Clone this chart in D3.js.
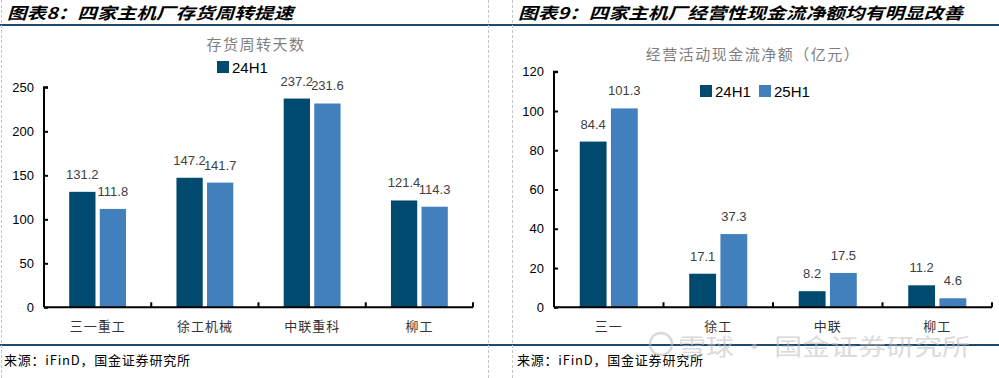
<!DOCTYPE html>
<html>
<head>
<meta charset="utf-8">
<script src="https://cdn.jsdelivr.net/npm/d3@7"></script>
<style>
  body { margin: 0; background: #fff; }
  svg { display: block; }
</style>
</head>
<body>
<svg id="chart" width="999" height="378"></svg>
<script>
// ---- data ----
const series = ['24H1', '25H1'];

const invCategories = ['三一重工', '徐工机械', '中联重科', '柳工'];
const inv24H1 = [131.2, 147.2, 237.2, 121.4];
const inv25H1 = [111.8, 141.7, 231.6, 114.3];
const invTicks = [0, 50, 100, 150, 200, 250];

const cashCategories = ['三一', '徐工', '中联', '柳工'];
const cash24H1 = [84.4, 17.1, 8.2, 11.2];
const cash25H1 = [101.3, 37.3, 17.5, 4.6];
const cashTicks = [0, 20, 40, 60, 80, 100, 120];

const colors = { '24H1': '#00496f', '25H1': '#417fbd' };
const navy = '#1d4a6b';
const cjk = '"Noto Sans CJK SC", sans-serif';
const latin = '"Liberation Sans", Arial, sans-serif';

const svg = d3.select('#chart');

// frame lines
svg.append('line').attr('x1', 0).attr('x2', 999).attr('y1', 25).attr('y2', 25)
    .attr('stroke', navy).attr('stroke-width', 2);
svg.append('line').attr('x1', 0).attr('x2', 999).attr('y1', 345).attr('y2', 345)
    .attr('stroke', navy).attr('stroke-width', 2);
[1, 488, 512].forEach(x => {
    svg.append('line').attr('x1', x + 0.5).attr('x2', x + 0.5).attr('y1', 0).attr('y2', 378)
        .attr('stroke', '#c4c4c4').attr('stroke-dasharray', '3,2');
});

// headers and footers
function header(x, text, len) {
    svg.append('text').attr('x', x).attr('y', 11.5)
        .attr('dominant-baseline', 'central')
        .attr('font-family', cjk).attr('font-weight', 'bold').attr('font-style', 'italic')
        .attr('font-size', 16).attr('fill', '#000')
        .attr('textLength', len).attr('lengthAdjust', 'spacingAndGlyphs')
        .text(text);
}
header(7, '图表8：四家主机厂存货周转提速', 286);
header(518, '图表9：四家主机厂经营性现金流净额均有明显改善', 445);

function footer(x) {
    svg.append('text').attr('x', x).attr('y', 359)
        .attr('dominant-baseline', 'central')
        .attr('font-family', cjk).attr('font-size', 13).attr('fill', '#000')
        .attr('textLength', 186).attr('lengthAdjust', 'spacing')
        .text('来源：iFinD，国金证券研究所');
}
footer(4);
footer(517);

function panel(cfg) {
    const g = svg.append('g');

    const x = d3.scaleBand().domain(cfg.categories).range(cfg.xRange);
    const bw = x.bandwidth();
    const xInner = d3.scaleBand().domain(series)
        .range([bw * 0.235, bw * 0.765]).paddingInner(0.14);
    const y = d3.scaleLinear().domain(cfg.yDomain).range(cfg.yRange);

    // title
    g.append('text').attr('x', cfg.titleX).attr('y', cfg.titleY)
        .attr('text-anchor', 'middle').attr('dominant-baseline', 'central')
        .attr('font-family', cjk).attr('font-size', 15).attr('fill', '#7f7f7f')
        .attr('letter-spacing', 1.5)
        .text(cfg.title);

    // bars
    const rows = cfg.categories.map((c, i) => ({
        cat: c,
        vals: series.map(s => ({ s, v: cfg.values[s][i] }))
    }));
    const grp = g.selectAll('.grp').data(rows).join('g')
        .attr('class', 'grp')
        .attr('transform', d => `translate(${x(d.cat)},0)`);
    grp.selectAll('rect').data(d => d.vals).join('rect')
        .attr('x', d => xInner(d.s))
        .attr('y', d => y(d.v))
        .attr('width', xInner.bandwidth())
        .attr('height', d => y(0) - y(d.v))
        .attr('fill', d => colors[d.s]);
    grp.selectAll('text').data(d => d.vals).join('text')
        .attr('x', d => xInner(d.s) + xInner.bandwidth() / 2)
        .attr('y', d => y(d.v) - 13)
        .attr('text-anchor', 'middle')
        .attr('font-family', latin).attr('font-size', 13).attr('fill', '#404040')
        .text(d => d.v.toFixed(1));

    // axes
    const yAxis = d3.axisRight(y).tickValues(cfg.ticks).tickSize(4).tickFormat(d3.format('d'));
    const ya = g.append('g').attr('transform', `translate(${cfg.xRange[0]},0)`).call(yAxis);
    ya.select('.domain').attr('stroke', '#000').attr('stroke-width', 2)
        .attr('d', `M4,${cfg.yRange[1]}H0V${cfg.yRange[0]}`);
    ya.selectAll('.tick line').attr('stroke', '#000').attr('stroke-width', 2);
    ya.selectAll('.tick text')
        .attr('x', -10).attr('text-anchor', 'end')
        .attr('font-family', latin).attr('font-size', 13).attr('fill', '#000');

    const xAxis = d3.axisBottom(x).tickSize(0);
    const xa = g.append('g').attr('transform', `translate(0,${y(0)})`).call(xAxis);
    xa.select('.domain').attr('stroke', '#000').attr('stroke-width', 2)
        .attr('d', `M${cfg.xRange[0]},0H${cfg.xRange[1]}`);
    xa.selectAll('.tick text')
        .attr('y', 18).attr('dy', 0).attr('dominant-baseline', 'central')
        .attr('font-family', cjk).attr('font-size', 13).attr('fill', '#333')
        .attr('letter-spacing', 1);
    // category separators (ticks pointing up)
    g.selectAll('.sep').data(cfg.categories).join('line')
        .attr('class', 'sep')
        .attr('x1', d => x(d) + bw).attr('x2', d => x(d) + bw)
        .attr('y1', y(0)).attr('y2', y(0) - 5)
        .attr('stroke', '#000').attr('stroke-width', 2);

    // legend
    const lg = g.append('g').attr('transform', `translate(${cfg.legendX},${cfg.legendY})`);
    const items = lg.selectAll('g').data(cfg.legendSeries).join('g')
        .attr('transform', (d, i) => `translate(${i * 59},0)`);
    items.append('rect').attr('x', 0).attr('y', -6).attr('width', 12).attr('height', 12)
        .attr('fill', d => colors[d]);
    items.append('text').attr('x', 15).attr('y', 0).attr('dominant-baseline', 'central')
        .attr('font-family', latin).attr('font-size', 15).attr('fill', '#000')
        .text(d => d);
}

panel({
    categories: invCategories,
    values: { '24H1': inv24H1, '25H1': inv25H1 },
    ticks: invTicks,
    yDomain: [0, 250],
    xRange: [44, 473],
    yRange: [307.3, 87.3],
    title: '存货周转天数',
    titleX: 256, titleY: 43,
    legendX: 217, legendY: 67,
    legendSeries: ['24H1']
});

panel({
    categories: cashCategories,
    values: { '24H1': cash24H1, '25H1': cash25H1 },
    ticks: cashTicks,
    yDomain: [0, 120],
    xRange: [554, 992],
    yRange: [307.3, 71.7],
    title: '经营活动现金流净额（亿元）',
    titleX: 753, titleY: 53,
    legendX: 700, legendY: 91,
    legendSeries: ['24H1', '25H1']
});

// watermark
const wm = svg.append('g').attr('opacity', 0.55);
wm.append('circle').attr('cx', 661).attr('cy', 344).attr('r', 11)
    .attr('fill', 'none').attr('stroke', '#bdbdbd').attr('stroke-width', 2.5);
wm.append('text').attr('x', 678).attr('y', 345).attr('dominant-baseline', 'central')
    .attr('font-family', cjk).attr('font-size', 23).attr('fill', '#bdbdbd')
    .attr('textLength', 292).attr('lengthAdjust', 'spacingAndGlyphs')
    .text('雪球 · 国金证券研究所');
</script>
</body>
</html>
